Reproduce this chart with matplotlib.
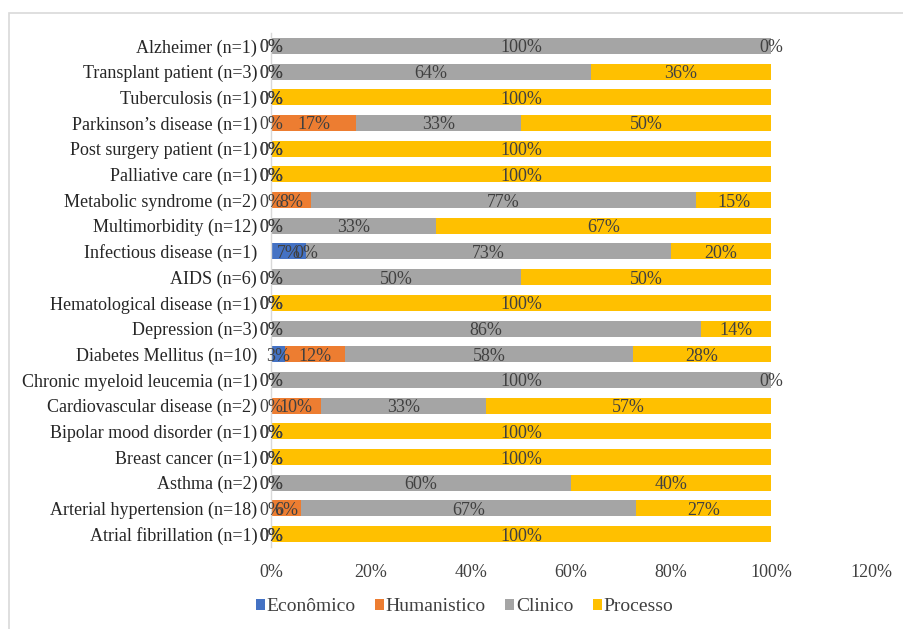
import numpy as np
import matplotlib.pyplot as plt
import matplotlib as mpl
from matplotlib.patches import Rectangle

mpl.rcParams['font.family'] = ['Liberation Serif', 'DejaVu Serif']
mpl.rcParams['font.size'] = 13

# categorias (de cima para baixo)
categories = [
    "Alzheimer (n=1)",
    "Transplant patient (n=3)",
    "Tuberculosis (n=1)",
    "Parkinson\u2019s disease (n=1)",
    "Post surgery patient (n=1)",
    "Palliative care (n=1)",
    "Metabolic syndrome (n=2)",
    "Multimorbidity (n=12)",
    "Infectious disease (n=1)",
    "AIDS (n=6)",
    "Hematological disease (n=1)",
    "Depression (n=3)",
    "Diabetes Mellitus (n=10)",
    "Chronic myeloid leucemia (n=1)",
    "Cardiovascular disease (n=2)",
    "Bipolar mood disorder (n=1)",
    "Breast cancer (n=1)",
    "Asthma (n=2)",
    "Arterial hypertension (n=18)",
    "Atrial fibrillation (n=1)",
]

# percentuais por tipo de desfecho
economico   = [0, 0, 0, 0, 0, 0, 0, 0, 7, 0, 0, 0, 2.8, 0, 0, 0, 0, 0, 0, 0]
humanistico = [0, 0, 0, 17, 0, 0, 8, 0, 0, 0, 0, 0, 12, 0, 10, 0, 0, 0, 6, 0]
clinico     = [100, 64, 0, 33, 0, 0, 77, 33, 73, 50, 0, 86, 57.6, 100, 33, 0, 0, 60, 67, 0]
processo    = [0, 36, 100, 50, 100, 100, 15, 67, 20, 50, 100, 14, 27.6, 0, 57, 100, 100, 40, 27, 100]

series_names = ["Econômico", "Humanistico", "Clinico", "Processo"]
colors = ['#4472C4', '#ED7D31', '#A5A5A5', '#FFC000']
series = [economico, humanistico, clinico, processo]

fig = plt.figure(figsize=(9.04, 6.29), dpi=100)
ax = fig.add_axes([0.2998, 0.1304, 0.6637, 0.8171])

y = np.arange(len(categories))
left = np.zeros(len(categories))
for name, vals, col in zip(series_names, series, colors):
    vals = np.array(vals, dtype=float) / 100
    bars = ax.barh(y, vals, left=left, height=0.62, color=col, label=name)
    texts = ax.bar_label(bars, labels=[f"{v * 100:.0f}%" for v in vals],
                         label_type='center', color='#404040', fontsize=13)
    for t in texts:
        t.set_va('center_baseline')
    left += vals

ax.set_xlim(0, 1.2)
ax.set_ylim(len(categories) - 0.5, -0.5)
ax.set_yticks(y)
ax.set_yticklabels(categories, color='#262626')
ax.set_xticks(np.arange(0, 1.21, 0.2))
ax.set_xticklabels([f"{int(round(t * 100))}%" for t in np.arange(0, 1.21, 0.2)], color='#404040')
ax.tick_params(axis='both', length=0)
ax.tick_params(axis='y', pad=10)
ax.tick_params(axis='x', pad=12)
for t in ax.get_yticklabels():
    t.set_va('center_baseline')

for side in ['top', 'right', 'bottom']:
    ax.spines[side].set_visible(False)
ax.spines['left'].set_color('#D9D9D9')
ax.spines['left'].set_linewidth(1.0)

leg = fig.legend(loc='center', bbox_to_anchor=(0.514, 0.035), ncol=4, frameon=False,
                 handlelength=0.45, handleheight=0.45, handletextpad=0.1,
                 columnspacing=1.0, fontsize=14)
for t in leg.get_texts():
    t.set_color('#404040')

# moldura do gráfico
fig.patches.append(Rectangle((8.5 / 904, -0.05), 1.2, 1 - 12.5 / 629 + 0.05,
                             transform=fig.transFigure, fill=False,
                             edgecolor='#D9D9D9', linewidth=1.2))

fig.savefig('out.png', dpi=100)
